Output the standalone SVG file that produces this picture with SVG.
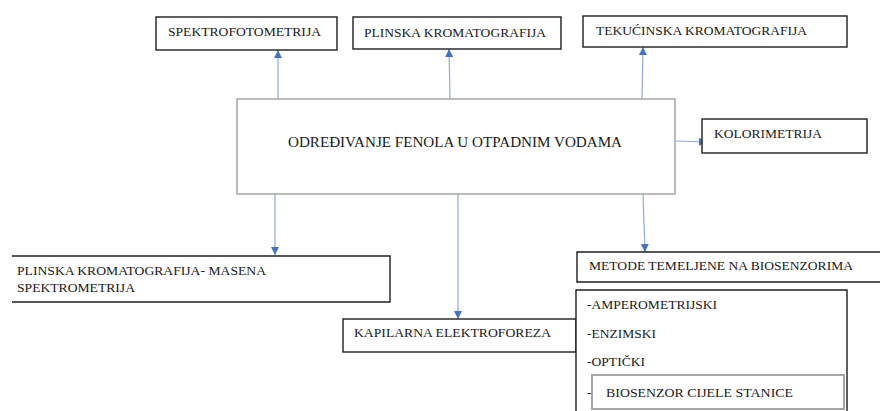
<svg xmlns="http://www.w3.org/2000/svg" width="880" height="411" viewBox="0 0 880 411">
<style>
text{font-family:"Liberation Serif","Times New Roman",serif;font-size:13.5px;fill:#1a1a1a}
.box{fill:#fff;stroke:#1f1f1f;stroke-width:1.4}
.main{fill:#fff;stroke:#a6a6a6;stroke-width:1.5}
.inner{fill:#fff;stroke:#a6a6a6;stroke-width:2}
.conn{stroke:#8eaadb;stroke-width:1.2;fill:none;marker-end:url(#ah)}
</style>
<defs>
<marker id="ah" viewBox="0 0 10 10" refX="10" refY="5" markerWidth="8" markerHeight="8" markerUnits="userSpaceOnUse" orient="auto">
<path d="M0,0 L10,5 L0,10 z" fill="#4472c4"/>
</marker>
</defs>
<rect width="880" height="411" fill="#fff"/>
<g id="connectors">
<line class="conn" x1="278" y1="99" x2="278" y2="50"/>
<line class="conn" x1="450" y1="99" x2="449" y2="49"/>
<line class="conn" x1="642" y1="99" x2="643" y2="47"/>
<line class="conn" x1="675" y1="141" x2="707" y2="142"/>
<line class="conn" x1="275" y1="194" x2="275" y2="255"/>
<line class="conn" x1="458" y1="194" x2="458" y2="319"/>
<line class="conn" x1="643" y1="194" x2="645" y2="252"/>
</g>
<g id="main">
<rect class="main" x="237" y="99" width="438" height="95"/>
<text x="288" y="146.5" style="font-size:15px" textLength="334" lengthAdjust="spacingAndGlyphs">ODREĐIVANJE FENOLA U OTPADNIM VODAMA</text>
</g>
<g id="spektrofotometrija">
<rect class="box" x="156" y="17" width="181" height="33"/>
<text x="168" y="36" textLength="153" lengthAdjust="spacingAndGlyphs">SPEKTROFOTOMETRIJA</text>
</g>
<g id="plinska">
<rect class="box" x="353" y="17" width="208" height="32"/>
<text x="364" y="36.5" textLength="182" lengthAdjust="spacingAndGlyphs">PLINSKA KROMATOGRAFIJA</text>
</g>
<g id="tekucinska">
<rect class="box" x="583" y="16" width="264" height="31"/>
<text x="596" y="35" textLength="211" lengthAdjust="spacingAndGlyphs">TEKUĆINSKA KROMATOGRAFIJA</text>
</g>
<g id="kolorimetrija">
<rect class="box" x="702" y="119" width="165" height="34"/>
<text x="714" y="138" textLength="108" lengthAdjust="spacingAndGlyphs">KOLORIMETRIJA</text>
</g>
<g id="gcms">
<path class="box" d="M12,256 H390 V302 H12"/>
<text x="17" y="275" textLength="249" lengthAdjust="spacingAndGlyphs">PLINSKA KROMATOGRAFIJA- MASENA</text>
<text x="17" y="291.7" textLength="118" lengthAdjust="spacingAndGlyphs">SPEKTROMETRIJA</text>
</g>
<g id="kapilarna">
<rect class="box" x="343" y="319" width="233" height="33"/>
<text x="354" y="337" textLength="197" lengthAdjust="spacingAndGlyphs">KAPILARNA ELEKTROFOREZA</text>
</g>
<g id="metode">
<path class="box" d="M881,252 H577 V282 H881"/>
<text x="589" y="270" textLength="264" lengthAdjust="spacingAndGlyphs">METODE TEMELJENE NA BIOSENZORIMA</text>
</g>
<g id="biosenzori-lista">
<path class="box" d="M576,412 V290 H847 V412"/>
<text x="587" y="309" textLength="130" lengthAdjust="spacingAndGlyphs">-AMPEROMETRIJSKI</text>
<text x="587" y="337.5" textLength="69" lengthAdjust="spacingAndGlyphs">-ENZIMSKI</text>
<text x="587" y="366" textLength="58" lengthAdjust="spacingAndGlyphs">-OPTIČKI</text>
<text x="587" y="396.5">-</text>
</g>
<g id="biosenzor-stanice">
<rect class="inner" x="592" y="375" width="252" height="34"/>
<text x="606" y="396.5" textLength="187" lengthAdjust="spacingAndGlyphs">BIOSENZOR CIJELE STANICE</text>
</g>
</svg>
